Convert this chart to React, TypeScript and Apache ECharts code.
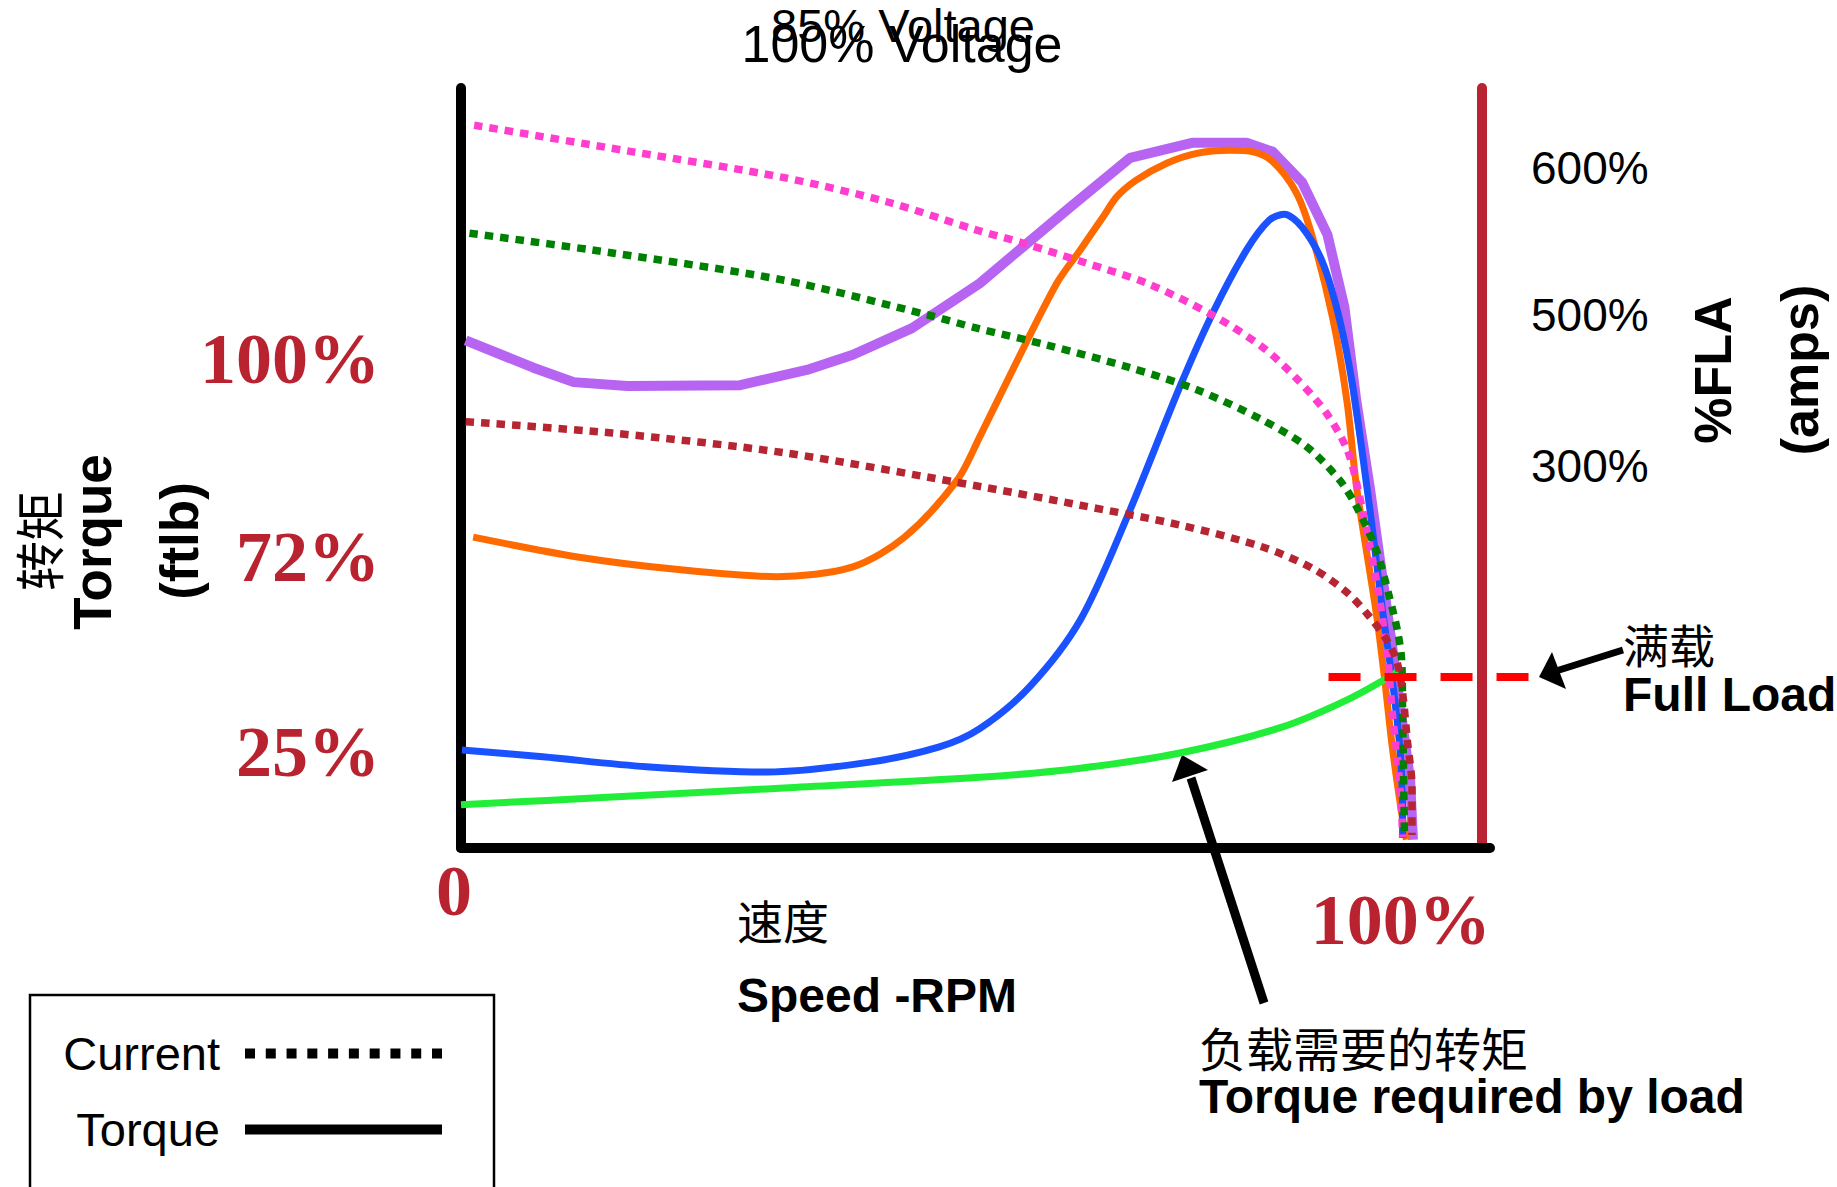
import React, { useEffect, useRef } from "react";
import * as echarts from "echarts";

const SANS = "'Liberation Sans', Arial, Helvetica, sans-serif";
const SERIF = "'Liberation Serif', 'Times New Roman', serif";
const CJK = "'Noto Sans CJK SC', 'Noto Sans CJK JP', sans-serif";
const LABEL_RED = "#b8232f";

// Axis tick labels (annotation marks on each axis)
const torqueLabels = ["100%", "72%", "25%"];
const torqueLabelValues = [64.3, 38.3, 12.6];
const currentLabels = ["600%", "500%", "300%"];
const currentLabelValues = [89.5, 70.1, 50.3];
const speedLabels = ["0", "100%"];
const speedLabelValues = [0, 100];

// Current curves (dotted) — [speed %, chart height %]
const currentFullVoltage: [number, number][] = [
  [1.4, 95.1], [18.3, 91.6], [34.4, 88.2], [45.4, 85.0], [54.9, 81.3], [59.8, 79.6],
  [66.2, 77.1], [73.0, 74.3], [80.0, 70.1], [85.3, 65.9], [88.9, 61.8], [92.1, 57.2],
  [94.3, 52.4], [95.4, 47.5], [97.4, 35.3], [98.6, 25.1], [99.1, 17.8], [99.7, 11.2],
  [100.1, 4.6], [100.2, 1.4],
];
const currentMidVoltage: [number, number][] = [
  [0.9, 80.9], [16.1, 78.3], [34.4, 74.7], [49.8, 70.1], [54.9, 68.4], [62.3, 66.2],
  [71.2, 63.2], [78.3, 60.3], [85.3, 56.3], [90.0, 52.8], [93.5, 48.4], [95.3, 44.9],
  [97.4, 39.2], [98.8, 33.0], [99.7, 28.3], [100.1, 24.7], [100.2, 17.8], [100.4, 1.4],
];
const currentLowVoltage: [number, number][] = [
  [0.5, 56.1], [16.1, 54.6], [34.4, 52.0], [55.5, 47.5], [65.9, 45.1], [76.5, 42.5],
  [85.3, 39.6], [90.6, 36.8], [94.3, 33.6], [96.7, 30.4], [98.5, 27.4], [99.6, 24.5],
  [100.2, 20.4], [100.7, 14.2], [101.2, 8.0], [101.2, 1.7],
];

// Torque curves (solid)
const torqueFullVoltage: [number, number][] = [
  [0.5, 66.8], [7.7, 63.2], [12.0, 61.3], [17.7, 60.8], [29.7, 60.9], [36.8, 62.9],
  [41.7, 64.9], [48.0, 68.4], [55.2, 74.3], [59.8, 79.1], [64.8, 84.3], [71.2, 90.8],
  [77.9, 92.8], [83.6, 92.8], [86.4, 91.6], [89.5, 87.6], [92.2, 80.7], [94.0, 71.2],
  [95.3, 58.6], [96.7, 47.5], [99.1, 26.4], [101.0, 8.9], [101.3, 1.1],
];
const torqueMidVoltage: [number, number][] = [
  [1.3, 40.9], [12.4, 38.3], [23.4, 36.6], [33.6, 35.7], [41.7, 37.0], [47.2, 40.9],
  [52.8, 48.4], [55.2, 54.1], [58.7, 62.9], [63.4, 74.3], [65.9, 78.7], [68.3, 83.0],
  [69.8, 85.7], [71.9, 87.9], [75.1, 90.1], [78.3, 91.4], [81.8, 91.8], [84.3, 91.6],
  [86.4, 90.3], [88.9, 86.2], [90.6, 80.4], [92.8, 69.5], [94.3, 58.6], [95.3, 47.5],
  [97.4, 30.9], [98.3, 22.1], [99.1, 13.3], [100.1, 4.6], [100.6, 1.1],
];
const torqueLowVoltage: [number, number][] = [
  [0.1, 12.9], [8.7, 12.0], [19.7, 10.7], [32.6, 10.0], [43.5, 11.3], [50.9, 13.3],
  [55.2, 15.7], [60.5, 21.2], [65.9, 30.0], [70.9, 43.6], [76.5, 60.7], [80.0, 70.4],
  [83.6, 78.7], [86.0, 82.6], [87.6, 83.4], [89.5, 81.7], [91.7, 77.0], [93.5, 69.5],
  [94.9, 60.7], [96.4, 47.5], [97.0, 41.8], [98.1, 30.9], [99.1, 22.1], [99.9, 13.3],
  [100.2, 4.6], [100.2, 1.3],
];
const loadTorque: [number, number][] = [
  [0, 5.7], [16.1, 6.7], [34.4, 7.9], [55.2, 9.3], [65.9, 10.5], [76.5, 12.5],
  [87.1, 15.8], [94.3, 19.5], [99.7, 23.2],
];
const fullLoadLevel: [number, number][] = [[92.3, 22.5], [113.6, 22.5]];

const pickLabel = (labels: string[], values: number[]) => (v: number) => {
  let best = 0;
  values.forEach((val, i) => {
    if (Math.abs(val - v) < Math.abs(values[best] - v)) best = i;
  });
  return labels[best];
};

const dottedIcon =
  "path://" +
  Array.from({ length: 10 }, (_, i) => `M${(i * 20.78).toFixed(2)},0h10v10h-10z`).join(" ");

const curve = (
  name: string,
  data: [number, number][],
  color: string,
  width: number,
  dotted: boolean,
  smooth: number | boolean
) => ({
  type: "line",
  name,
  data,
  symbol: "none",
  showSymbol: false,
  smooth,
  clip: false,
  silent: true,
  color,
  lineStyle: {
    color,
    width,
    type: dotted ? [8.5, 7] : "solid",
    cap: "butt",
    join: "round",
  },
});

export default function App() {
  const ref = useRef<HTMLDivElement>(null);

  useEffect(() => {
    if (!ref.current) return;
    const chart = echarts.init(ref.current, null, { renderer: "svg" });

    const hiddenAxis = { show: false, axisLine: { show: false }, axisLabel: { show: false }, axisTick: { show: false }, splitLine: { show: false } };

    const option: any = {
      animation: false,
      backgroundColor: "#ffffff",
      grid: [
        { left: 461, right: 347, top: 88, bottom: 339, containLabel: false, outerBoundsMode: "none" },
        // overlay grid, same scale, wide enough for the full-load marker that crosses the right axis
        { left: 461, right: 297, top: 88, bottom: 339, containLabel: false, outerBoundsMode: "none" },
      ],
      xAxis: [
        {
          type: "value",
          gridIndex: 0,
          min: 0,
          max: 109.5,
          axisLine: { show: true, onZero: false, lineStyle: { color: "#000", width: 10 } },
          axisTick: { show: false },
          splitLine: { show: false },
          axisLabel: {
            show: true,
            margin: 7,
            customValues: speedLabelValues,
            formatter: (v: number) =>
              v === speedLabelValues[0] ? `{a|${speedLabels[0]}}` : `{b|${speedLabels[1]}}`,
            rich: {
              a: {
                fontFamily: SERIF,
                fontWeight: "bold",
                fontSize: 72,
                color: LABEL_RED,
                lineHeight: 72,
                padding: [0, 14, 0, 0],
              },
              b: {
                fontFamily: SERIF,
                fontWeight: "bold",
                fontSize: 72,
                color: LABEL_RED,
                lineHeight: 129,
              },
            },
          },
        },
        { type: "value", gridIndex: 1, min: 0, max: 114.8, ...hiddenAxis },
      ],
      yAxis: [
        {
          type: "value",
          gridIndex: 0,
          min: 0,
          max: 100,
          position: "left",
          axisLine: { show: true, onZero: false, lineStyle: { color: "#000", width: 10 } },
          axisTick: { show: false },
          splitLine: { show: false },
          axisLabel: {
            show: true,
            customValues: torqueLabelValues,
            formatter: pickLabel(torqueLabels, torqueLabelValues),
            margin: 81,
            fontFamily: SERIF,
            fontWeight: "bold",
            fontSize: 72,
            color: LABEL_RED,
          },
        },
        {
          type: "value",
          gridIndex: 0,
          min: 0,
          max: 100,
          position: "right",
          offset: -8,
          axisLine: { show: true, onZero: false, lineStyle: { color: "#b92333", width: 10 } },
          axisTick: { show: false },
          splitLine: { show: false },
          axisLabel: {
            show: true,
            customValues: currentLabelValues,
            formatter: pickLabel(currentLabels, currentLabelValues),
            margin: 49,
            fontFamily: SANS,
            fontSize: 46,
            color: "#000",
          },
        },
        { type: "value", gridIndex: 1, min: 0, max: 100, ...hiddenAxis },
      ],
      legend: {
        orient: "vertical",
        right: 1395,
        top: 1030,
        padding: 0,
        itemGap: 29,
        itemWidth: 197,
        itemHeight: 10,
        align: "right",
        selectedMode: false,
        symbolKeepAspect: false,
        textStyle: {
          fontFamily: SANS,
          fontSize: 47,
          color: "#000",
          padding: [0, 20, 0, 0],
        },
        data: [
          { name: "Current", icon: dottedIcon },
          { name: "Torque", icon: "rect" },
        ],
      },
      series: [
        curve("Torque 100% Voltage", torqueFullVoltage, "#b764f2", 10, false, false),
        curve("Torque 85% Voltage", torqueMidVoltage, "#ff6a00", 7, false, 0.3),
        curve("Torque reduced voltage", torqueLowVoltage, "#1a52ff", 7, false, 0.3),
        curve("Torque required by load", loadTorque, "#22ee3a", 7, false, 0.3),
        curve("Current 100% Voltage", currentFullVoltage, "#ff3dcf", 7.5, true, 0.3),
        curve("Current 85% Voltage", currentMidVoltage, "#008000", 7.5, true, 0.3),
        curve("Current reduced voltage", currentLowVoltage, "#b52532", 7.5, true, 0.3),
        {
          type: "line",
          name: "Full Load",
          xAxisIndex: 1,
          yAxisIndex: 2,
          data: fullLoadLevel,
          symbol: "none",
          silent: true,
          color: "#ff0000",
          lineStyle: { color: "#ff0000", width: 8, type: [32, 24], cap: "butt" },
        },
        { type: "line", name: "Current", data: [], symbol: "none", color: "#000", itemStyle: { color: "#000" }, lineStyle: { color: "#000" } },
        { type: "line", name: "Torque", data: [], symbol: "none", color: "#000", itemStyle: { color: "#000" }, lineStyle: { color: "#000" } },
      ],
      graphic: [
        { type: "text", x: 903, y: 25, style: { text: "85% Voltage", fontFamily: SANS, fontSize: 47, fill: "#000", align: "center", verticalAlign: "middle" } },
        { type: "text", x: 902, y: 44, style: { text: "100% Voltage", fontFamily: SANS, fontSize: 52, fill: "#000", align: "center", verticalAlign: "middle" } },

        { type: "text", x: 37, y: 541, rotation: Math.PI / 2, style: { text: "转矩", fontFamily: CJK, fontSize: 50, fill: "#000", align: "center", verticalAlign: "middle" } },
        { type: "text", x: 92, y: 542, rotation: Math.PI / 2, style: { text: "Torque", fontFamily: SANS, fontWeight: "bold", fontSize: 53, fill: "#000", align: "center", verticalAlign: "middle" } },
        { type: "text", x: 179, y: 541, rotation: Math.PI / 2, style: { text: "(ftlb)", fontFamily: SANS, fontWeight: "bold", fontSize: 53, fill: "#000", align: "center", verticalAlign: "middle" } },

        { type: "text", x: 1713, y: 370, rotation: Math.PI / 2, style: { text: "%FLA", fontFamily: SANS, fontWeight: "bold", fontSize: 52, fill: "#000", align: "center", verticalAlign: "middle" } },
        { type: "text", x: 1800, y: 370, rotation: Math.PI / 2, style: { text: "(amps)", fontFamily: SANS, fontWeight: "bold", fontSize: 52, fill: "#000", align: "center", verticalAlign: "middle" } },

        { type: "text", x: 737, y: 919, style: { text: "速度", fontFamily: CJK, fontSize: 46, fill: "#000", align: "left", verticalAlign: "middle" } },
        { type: "text", x: 737, y: 995, style: { text: "Speed -RPM", fontFamily: SANS, fontWeight: "bold", fontSize: 48, fill: "#000", align: "left", verticalAlign: "middle" } },

        { type: "text", x: 1623, y: 643, style: { text: "满载", fontFamily: CJK, fontSize: 46, fill: "#000", align: "left", verticalAlign: "middle" } },
        { type: "text", x: 1623, y: 694, style: { text: "Full Load", fontFamily: SANS, fontWeight: "bold", fontSize: 48, fill: "#000", align: "left", verticalAlign: "middle" } },

        { type: "text", x: 1199, y: 1046, style: { text: "负载需要的转矩", fontFamily: CJK, fontSize: 47, fill: "#000", align: "left", verticalAlign: "middle" } },
        { type: "text", x: 1199, y: 1096, style: { text: "Torque required by load", fontFamily: SANS, fontWeight: "bold", fontSize: 48, fill: "#000", align: "left", verticalAlign: "middle" } },

        { type: "line", shape: { x1: 1623, y1: 650, x2: 1556, y2: 671 }, style: { stroke: "#000", lineWidth: 7 } },
        { type: "polygon", shape: { points: [[1539, 677], [1552, 652], [1566, 689]] }, style: { fill: "#000" } },

        { type: "line", shape: { x1: 1264, y1: 1003, x2: 1191, y2: 778 }, style: { stroke: "#000", lineWidth: 9 } },
        { type: "polygon", shape: { points: [[1182, 755], [1172, 782], [1208, 770]] }, style: { fill: "#000" } },

        { type: "rect", shape: { x: 30, y: 995, width: 464, height: 300 }, style: { fill: "none", stroke: "#000", lineWidth: 2.5 } },
      ],
    };

    chart.setOption(option);
    return () => chart.dispose();
  }, []);

  return (
    <div
      ref={ref}
      style={{ position: "fixed", left: 0, top: 0, width: 1837, height: 1187, background: "#fff" }}
    />
  );
}
